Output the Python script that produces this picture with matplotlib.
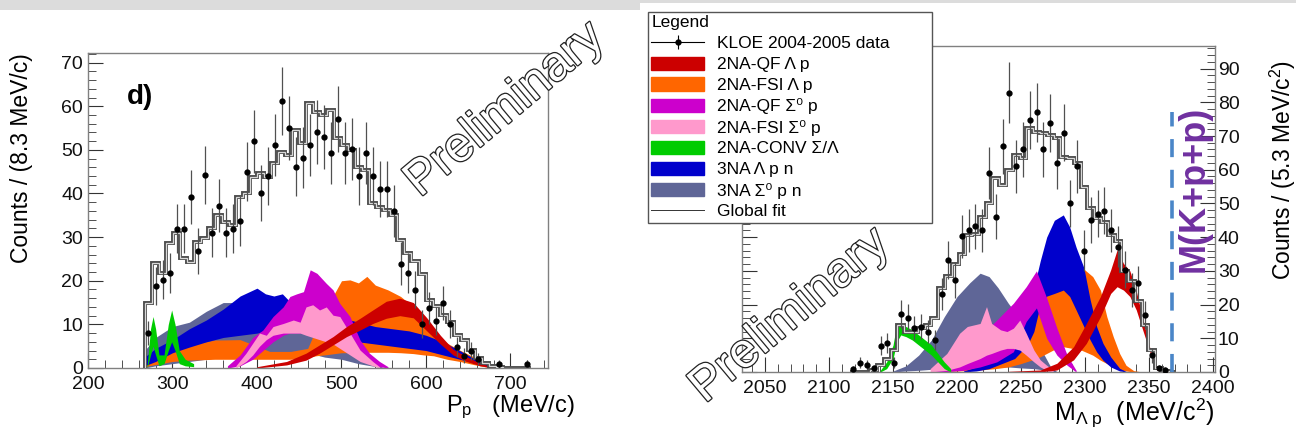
import numpy as np
import matplotlib
matplotlib.use("Agg")
import matplotlib.pyplot as plt
import matplotlib.patheffects as pe
from matplotlib.patches import Patch, Rectangle
from matplotlib.lines import Line2D
from matplotlib.ticker import MultipleLocator

plt.rcParams['font.family'] = ['Liberation Sans', 'DejaVu Sans']
plt.rcParams['mathtext.fontset'] = 'custom'
plt.rcParams['mathtext.rm'] = 'Liberation Sans'
plt.rcParams['mathtext.it'] = 'Liberation Sans:italic'
plt.rcParams['mathtext.bf'] = 'Liberation Sans:bold'
plt.rcParams['mathtext.default'] = 'regular'

# ---------------- left panel: proton momentum ----------------
pp_start, pp_width = 267.45, 8.3
pp_data = [8.0, 18.8, 20.2, 21.8, 31.9, 31.9, 39.2, 26.8, 44.3, 31, 37.2, 31, 31.9, 33.7,
           45, 52, 40.1, 44, 51.1, 61.2, 55, 46.1, 48.2, 51.1, 54.1, 53, 49.3, 57.1, 49.3,
           50.2, 44, 49.3, 44, 41, 41, 36, 23.9, 21.8, 17.9, 10.1, 13.8, 10.8, 14.9, 10.1,
           4.8, 2.8, 3.9, 2.0, np.nan, np.nan, 0.9, np.nan, np.nan, np.nan, 0.9]
pp_fit = [14.9, 24, 21.8, 28.7, 31, 25.2, 24.3, 28.9, 29.8, 32.1, 35, 33.5, 32.8, 39.2,
          40.1, 43.8, 44.7, 43.8, 47, 49.5, 48.8, 54.6, 51.6, 60.8, 58.7, 58, 59.2, 52.8,
          51.1, 50, 46, 45.4, 37.8, 37, 36.2, 35, 29.4, 26.4, 24.5, 21.5, 15.6, 14.1, 12.2,
          10.6, 7.6, 6.4, 4.1, 2.2, 1.1, 0.5, 0.2, 0, 0, 0, 0]

# bands: (x, lower, upper)
pp_gray = ([267, 280, 300, 320, 340, 360, 380, 400, 420, 440, 460, 480, 500, 520, 550],
           [0, 0.5, 1, 1.5, 2, 2.5, 3, 3.5, 3.7, 3.7, 3.5, 2.5, 2, 1, 0],
           [4, 7, 9.5, 10.5, 13, 15, 15, 13, 9, 8.5, 8, 6.5, 5, 3, 0])
pp_orange = ([267, 280, 300, 320, 350, 380, 400, 415, 440, 460, 470, 480, 500, 510, 520, 530,
              540, 555, 570, 585, 597, 609, 625, 640, 656, 672, 680],
             [0.3, 0.8, 1.5, 1.8, 2, 2, 2, 2, 2, 2.5, 2.8, 3, 3.5, 3.5, 3.5, 3.6, 3.6, 3.6,
              3.5, 3.3, 3, 2.8, 2, 1.5, 0.8, 0.2, 0],
             [1.5, 2.5, 4, 5.3, 6.4, 6.5, 5, 3.8, 3.8, 4.5, 9, 13, 20, 20.2, 19.5, 21, 19,
              17.9, 16.4, 14, 11, 8, 5.7, 4.1, 2.6, 0.7, 0.1])
pp_blue = ([267, 280, 300, 320, 340, 360, 380, 400, 410, 420, 430, 440, 460, 480, 500, 520,
            540, 560, 580, 600, 620, 640, 660, 680],
           [0.5, 1.5, 3.5, 4.8, 6, 7, 7.5, 8, 8.5, 8.5, 8.5, 8.5, 8.5, 8, 7, 6, 5.5, 5, 4.5,
            4, 3, 2, 1, 0.2],
           [2.5, 4.5, 6.5, 9, 11, 13.5, 16.5, 18.3, 17, 16.5, 17, 15, 13.5, 12.5, 11.5, 10.5,
            9.5, 9, 8.5, 7.5, 6, 4, 1.8, 0.3])
pp_magenta = ([365, 380, 395, 407, 419, 431, 439, 447, 455, 463, 471, 482, 490, 498, 510,
               522, 533, 545, 555],
              [0, 0.5, 2, 4, 6, 7.5, 8, 8, 8, 8, 7.5, 7, 6, 5, 4, 2.5, 1, 0.3, 0],
              [0.5, 3, 7, 8.7, 11.8, 14, 16.4, 17, 17.5, 22.5, 21.7, 19.4, 17.9, 14.8, 11.8,
               6.4, 3.4, 1.5, 0.3])
pp_pink = ([375, 387, 395, 403, 411, 419, 431, 443, 451, 458, 466, 474, 482, 490, 498, 510,
            522, 537, 545],
           [0, 1.5, 3, 5, 6.5, 7.5, 8, 8, 8, 7.5, 7, 6.5, 6, 5.5, 4.5, 3, 1.5, 0.5, 0],
           [0.5, 3.4, 5.7, 8, 7.5, 9.5, 10.2, 11, 10.5, 14, 14.5, 13.3, 14, 12.1, 11.8, 8,
            4.1, 1.5, 0.3])
pp_green = ([270, 274, 277, 280, 284, 290, 295, 299, 303, 308, 315, 325],
            [0, 3, 5, 3, 0.5, 1, 4, 6, 4, 1, 0.5, 0.3],
            [0.5, 9, 11.8, 9, 3, 3, 10, 13.3, 10, 4, 2, 1])
pp_red = ([400, 435, 458, 474, 490, 506, 522, 537, 553, 569, 585, 601, 617, 632, 648, 664, 680],
          [0, 0.7, 1.8, 3.4, 5.3, 7.2, 8.7, 10.2, 11.4, 12, 11.5, 8.5, 5.5, 3, 1.5, 0.5, 0],
          [0.3, 1.5, 3.4, 5.3, 7.2, 9.5, 11.4, 13.3, 15.3, 16, 15, 11.5, 7.5, 4.3, 2.6, 1.1, 0.2])

# ---------------- right panel: Lambda p invariant mass ----------------
m_start, m_width = 2116.35, 5.3
m_data = [0.8, 2.8, 2.1, 1.1, 7.8, 8.7, 2.8, 17.1, 16.1, 13.1, 13.4, 12, 9.5, 23.1, 33.2,
          27.3, 40.2, 42, 43.2, 42, 59, 46.1, 67, 82.9, 61, 66, 74.8, 77, 66, 74, 62.1, 71,
          50, 61, 36, 45.1, 47, 47.9, 42, 37.2, 30.3, 24.3, 26.3, 16.9, 5, 1.1, 0.7, np.nan]
m_fit = [0, 0, 0.1, 0.6, 2, 4, 6.5, 14, 12, 12, 13, 14, 16, 25, 28.5, 32, 35, 40.5, 41, 46,
         50, 57.5, 55.5, 60, 64.4, 63.4, 72.3, 71.3, 70.8, 70.3, 69.3, 63.9, 63.4, 61.9, 55,
         48.6, 45.6, 44.6, 40.7, 39, 30, 27, 21, 14, 6.5, 1.1, 0.3, 0]

m_gray = ([2150, 2160, 2170, 2180, 2190, 2200, 2210, 2218, 2225, 2232, 2240, 2250, 2260, 2266,
           2273, 2278],
          [0, 0.3, 0.5, 0.8, 1, 1.2, 1.5, 1.5, 1.5, 1.5, 1.5, 1.2, 1, 0.7, 0.3, 0],
          [0.3, 1.8, 5, 9.5, 16.4, 22.4, 26.5, 29.3, 28.3, 25, 20.4, 15.4, 9.5, 6.5, 1.6, 0.1])
m_orange = ([2180, 2200, 2215, 2230, 2240, 2250, 2258, 2265, 2275, 2283, 2290, 2297, 2306,
             2312, 2317, 2322, 2327, 2332, 2338, 2345],
            [0, 0.3, 0.5, 1, 1.5, 2.5, 3.5, 4.5, 6.5, 7.5, 7, 6.5, 5, 3.5, 2.5, 1.5, 0.7, 0.3,
             0, 0],
            [0.3, 1.5, 3, 5, 7, 12, 18, 23, 25, 27, 29, 31.2, 28.3, 24.3, 16.4, 10.5, 5.5, 2,
             0.4, 0])
m_blue = ([2205, 2215, 2225, 2235, 2245, 2255, 2260, 2265, 2270, 2276, 2283, 2288, 2293, 2299,
           2304, 2309, 2314, 2320, 2327, 2333],
          [0, 0.3, 1, 2.5, 4, 8, 12, 20, 22.5, 23.3, 24.3, 22.4, 18.4, 13.5, 9.5, 6, 3.5, 1.5,
           0.3, 0],
          [0.3, 1.5, 4, 5.5, 8, 17, 25, 33, 40, 45, 46.6, 43, 37, 31, 21.4, 13.5, 8.5, 4.5,
           1.1, 0])
m_magenta = ([2180, 2195, 2205, 2218, 2231, 2244, 2254, 2262, 2270, 2278, 2286, 2293],
             [0, 0.2, 0.5, 1.5, 3, 6, 15, 19, 10, 5, 2, 0],
             [0.3, 1.5, 5, 10.5, 15.4, 20.4, 25.3, 30, 22, 13, 5, 0.5])
m_pink = ([2179, 2192, 2202, 2208, 2218, 2223, 2227, 2234, 2239, 2244, 2249, 2254, 2260, 2265,
           2270, 2275],
          [0, 0.5, 1.5, 2.5, 4, 5, 5.5, 6.5, 7, 7, 6.5, 5, 3, 1.5, 0.5, 0],
          [1, 5.5, 11.5, 13.5, 14.4, 19.4, 14.4, 12.5, 12, 13, 15.4, 11.5, 6.5, 3.6, 2, 0.6])
m_green = ([2140, 2145, 2150, 2153, 2156, 2160, 2165, 2170, 2175, 2180, 2185, 2190, 2195],
           [0, 1, 4, 9, 11, 10.5, 9.5, 8, 6.5, 5, 3, 1, 0],
           [0.5, 3, 8, 14.5, 14, 13.5, 12.5, 11, 9.5, 8, 5.5, 3, 1])
m_red = ([2240, 2265, 2278, 2291, 2301, 2312, 2320, 2325, 2330, 2335, 2340, 2345, 2351, 2356,
          2360],
         [0, 0, 0.6, 3.6, 8.5, 16.4, 23.3, 25.3, 24.3, 22.4, 18.4, 12.5, 5.5, 0.6, 0],
         [0.2, 0.6, 2.6, 7.5, 14.4, 22.4, 30.3, 36.2, 32.2, 30, 24, 16, 6.5, 1.6, 0])
kpp_mass = 2368
kpp_top = 77

colors = {'red': '#cc0000', 'orange': '#ff6600', 'magenta': '#cc00cc', 'pink': '#ff99cc',
          'green': '#00cc00', 'blue': '#0000cc', 'gray': '#5f6697'}
labels = {'red': '2NA-QF Λ p', 'orange': '2NA-FSI Λ p', 'magenta': '2NA-QF Σ⁰ p',
          'pink': '2NA-FSI Σ⁰ p', 'green': '2NA-CONV Σ/Λ', 'blue': '3NA Λ p n',
          'gray': '3NA Σ⁰ p n'}

fig = plt.figure(figsize=(12.96, 4.33), dpi=100)
ax1 = fig.add_axes([88 / 1296, 1 - 368 / 433, 460 / 1296, 315 / 433])
ax2 = fig.add_axes([742 / 1296, 1 - 372 / 433, 473 / 1296, 326 / 433])


def draw_panel(ax, start, width, data, fit, bands):
    for name, (x, lo, hi) in bands:
        ax.fill_between(x, lo, hi, color=colors[name], lw=0, zorder=2)
    n = len(fit)
    edges = start + width * np.arange(n + 1)
    ax.stairs(fit, edges, color='#4d4d4d', lw=2.8, zorder=4)
    ax.stairs(fit, edges, color='#d9d9d9', lw=0.9, zorder=4)
    centers = start + width * (np.arange(len(data)) + 0.5)
    d = np.array(data, dtype=float)
    ax.errorbar(centers, d, yerr=np.sqrt(d), fmt='o', color='black', ms=3.5,
                ecolor='#505050', elinewidth=0.9, capsize=0, zorder=5)
    for s in ax.spines.values():
        s.set_color('#808080')
        s.set_linewidth(1.0)
    ax.tick_params(which='both', direction='in', colors='#333333', labelsize=14,
                   labelcolor='#111111')
    ax.tick_params(which='major', length=11)
    ax.tick_params(which='minor', length=6)


draw_panel(ax1, pp_start, pp_width, pp_data, pp_fit,
           [('gray', pp_gray), ('orange', pp_orange), ('blue', pp_blue),
            ('magenta', pp_magenta), ('pink', pp_pink), ('green', pp_green), ('red', pp_red)])
draw_panel(ax2, m_start, m_width, m_data, m_fit,
           [('gray', m_gray), ('orange', m_orange), ('blue', m_blue),
            ('magenta', m_magenta), ('pink', m_pink), ('green', m_green), ('red', m_red)])

ax1.set_xlim(200, 744.4)
ax1.set_ylim(0, 72.2)
ax1.xaxis.set_major_locator(MultipleLocator(100))
ax1.xaxis.set_minor_locator(MultipleLocator(20))
ax1.yaxis.set_major_locator(MultipleLocator(10))
ax1.yaxis.set_minor_locator(MultipleLocator(2))
ax1.tick_params(axis='x', pad=6)
ax1.set_xlabel('P$_p$   (MeV/c)', fontsize=17, loc='right')
ax1.xaxis.set_label_coords(1.059, -0.08)
ax1.set_ylabel('Counts / (8.3 MeV/c)', fontsize=16.5)
ax1.yaxis.set_label_coords(-0.12, 0.665)
ax1.text(0.085, 0.838, 'd)', transform=ax1.transAxes, fontsize=20, fontweight='bold')

ax2.set_xlim(2032, 2401.5)
ax2.set_ylim(0, 96.7)
ax2.xaxis.set_major_locator(MultipleLocator(50))
ax2.xaxis.set_minor_locator(MultipleLocator(10))
ax2.yaxis.set_major_locator(MultipleLocator(10))
ax2.yaxis.set_minor_locator(MultipleLocator(2))
ax2.tick_params(axis='x', pad=6)
ax2.tick_params(axis='y', which='both', left=True, right=True, labelleft=False,
                labelright=True, pad=2)
ax2.set_xlabel('M$_{Λ\\ p}$  (MeV/c$^2$)', fontsize=18, loc='right')
ax2.xaxis.set_label_coords(1.0, -0.075)
ax2.yaxis.set_label_position('right')
ax2.set_ylabel('Counts / (5.3 MeV/c$^2$)', fontsize=16.5)
ax2.yaxis.set_label_coords(1.112, 0.62)

ax2.vlines(kpp_mass, 0, kpp_top, colors='#4a86c8', linestyles=(0, (5, 3.5)), lw=2.6, zorder=6)
ax2.text(1194 / 1296, 1 - 189 / 433, 'M(K+p+p)', transform=fig.transFigure, rotation=90,
         ha='center', va='center', fontsize=26, fontweight='bold', color='#7030a0')

# watermark text
for (px, py) in [(505, 110), (790, 316)]:
    fig.text(px / 1296, 1 - py / 433, 'Preliminary', rotation=40, ha='center', va='center',
             fontsize=35, color='white',
             path_effects=[pe.withStroke(linewidth=1.8, foreground='#222222')])

# legend
handles = [(Line2D([], [], color='black', lw=0.8, marker='|', ms=10, mew=0.8),
            Line2D([], [], color='black', ls='none', marker='o', ms=3.5))]
names = ['KLOE 2004-2005 data']
for key in ['red', 'orange', 'magenta', 'pink', 'green', 'blue', 'gray']:
    handles.append(Patch(facecolor=colors[key], edgecolor=colors[key]))
    names.append(labels[key])
handles.append(Line2D([], [], color='#333333', lw=0.7))
names.append('Global fit')
leg = fig.legend(handles, names, loc='upper left',
                 bbox_to_anchor=(648 / 1296, 1 - 221 / 433, 284 / 1296, 209 / 433),
                 mode='expand', title='Legend', alignment='left', fontsize=12.5,
                 title_fontsize=12.5, frameon=True, fancybox=False, edgecolor='#555555',
                 framealpha=1, borderpad=0.2, labelspacing=0.3, handlelength=3.0,
                 handleheight=0.8, handletextpad=0.8, borderaxespad=0)
leg.get_frame().set_linewidth(1.0)

# grey strips at the top of the slide
fig.add_artist(Rectangle((0, 1 - 10 / 433), 640 / 1296, 10 / 433, transform=fig.transFigure,
                         color='#dcdcdc', lw=0, zorder=0))
fig.add_artist(Rectangle((640 / 1296, 1 - 3 / 433), 656 / 1296, 3 / 433,
                         transform=fig.transFigure, color='#dcdcdc', lw=0, zorder=0))

fig.savefig('out.png', dpi=100)
